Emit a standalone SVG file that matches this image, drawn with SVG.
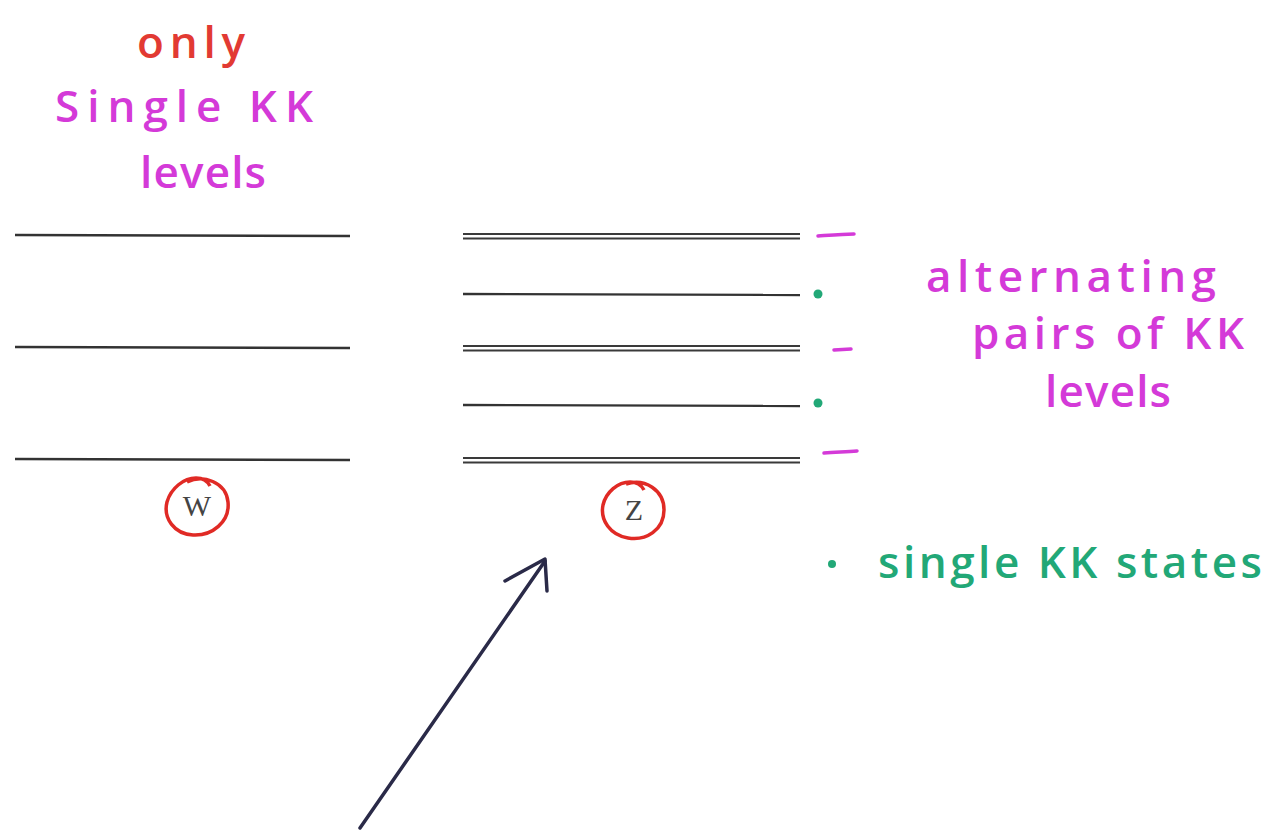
<svg xmlns="http://www.w3.org/2000/svg" width="1267" height="838" viewBox="0 0 1267 838">
  <style>
    .hand { font-family: "Open Sans", "Liberation Sans", sans-serif; font-size: 44px; font-weight: 600; }
    .red { fill: #e23a33; }
    .mag { fill: #d43ad8; }
    .grn { fill: #22a877; }
    .lvl { stroke: #333333; stroke-width: 2.4; fill: none; }
    .dbl { stroke: #3a3a3a; stroke-width: 2; fill: none; }
    .tick { stroke: #d43ad8; stroke-width: 3.5; stroke-linecap: round; fill: none; }
    .ring { stroke: #e02a25; stroke-width: 3.5; fill: none; }
    .sym { font-family: "Liberation Serif", serif; font-size: 30px; fill: #444; }
    .arrow { stroke: #2a2a48; stroke-width: 3.5; stroke-linecap: round; stroke-linejoin: round; fill: none; }
  </style>
  <rect width="1267" height="838" fill="#ffffff"/>

  <!-- left column: single levels -->
  <g id="w-caption">
    <text class="hand red" x="137" y="58" textLength="108" lengthAdjust="spacing">only</text>
    <text class="hand mag" x="55" y="122" textLength="258" lengthAdjust="spacing">Single KK</text>
    <text class="hand mag" x="140" y="188" textLength="126" lengthAdjust="spacing">levels</text>
  </g>
  <g id="w-levels">
    <line class="lvl" x1="15" y1="235" x2="350" y2="236"/>
    <line class="lvl" x1="15" y1="347" x2="350" y2="348"/>
    <line class="lvl" x1="15" y1="459" x2="350" y2="460"/>
  </g>
  <g id="w-label">
    <path class="ring" d="M187 482 C203 474 226 482 228 502 C230 522 212 536 193 535 C174 534 163 518 167 502 C171 488 184 478 196 478 C204 478 208 482 210 486"/>
    <text class="sym" x="197" y="516" text-anchor="middle">W</text>
  </g>

  <!-- right column: paired and single levels -->
  <g id="z-levels">
    <line class="dbl" x1="463" y1="234" x2="800" y2="234"/>
    <line class="dbl" x1="463" y1="238.5" x2="800" y2="238.5"/>
    <line class="lvl" x1="463" y1="294" x2="800" y2="295"/>
    <line class="dbl" x1="463" y1="346" x2="800" y2="346"/>
    <line class="dbl" x1="463" y1="350.5" x2="800" y2="350.5"/>
    <line class="lvl" x1="463" y1="405" x2="800" y2="406"/>
    <line class="dbl" x1="463" y1="458" x2="800" y2="458"/>
    <line class="dbl" x1="463" y1="462.5" x2="800" y2="462.5"/>
  </g>
  <g id="z-marks">
    <path class="tick" d="M818 236 C832 235 844 234 854 234"/>
    <path class="tick" d="M834 350 L851 349"/>
    <path class="tick" d="M824 453 C836 452 846 452 857 451"/>
    <circle class="grn" cx="818" cy="294" r="4.5"/>
    <circle class="grn" cx="818" cy="403" r="4.5"/>
  </g>
  <g id="z-label">
    <path class="ring" d="M626 484 C645 478 664 490 664 510 C664 530 646 541 628 538 C610 535 600 520 603 505 C606 492 618 482 630 482 C638 482 642 486 644 490"/>
    <text class="sym" x="634" y="520" text-anchor="middle">Z</text>
  </g>

  <!-- annotations -->
  <g id="pairs-note">
    <text class="hand mag" x="926" y="292" textLength="290" lengthAdjust="spacing">alternating</text>
    <text class="hand mag" x="972" y="349" textLength="272" lengthAdjust="spacing">pairs of KK</text>
    <text class="hand mag" x="1045" y="407" textLength="126" lengthAdjust="spacing">levels</text>
  </g>
  <g id="single-note">
    <circle class="grn" cx="832" cy="564" r="4"/>
    <text class="hand grn" x="878" y="578" textLength="384" lengthAdjust="spacing">single KK states</text>
  </g>

  <!-- pointer arrow -->
  <g id="connectors">
    <path class="arrow" d="M360 828 L545 561"/>
    <path class="arrow" d="M505 581 L545 559 L547 591"/>
  </g>
</svg>
